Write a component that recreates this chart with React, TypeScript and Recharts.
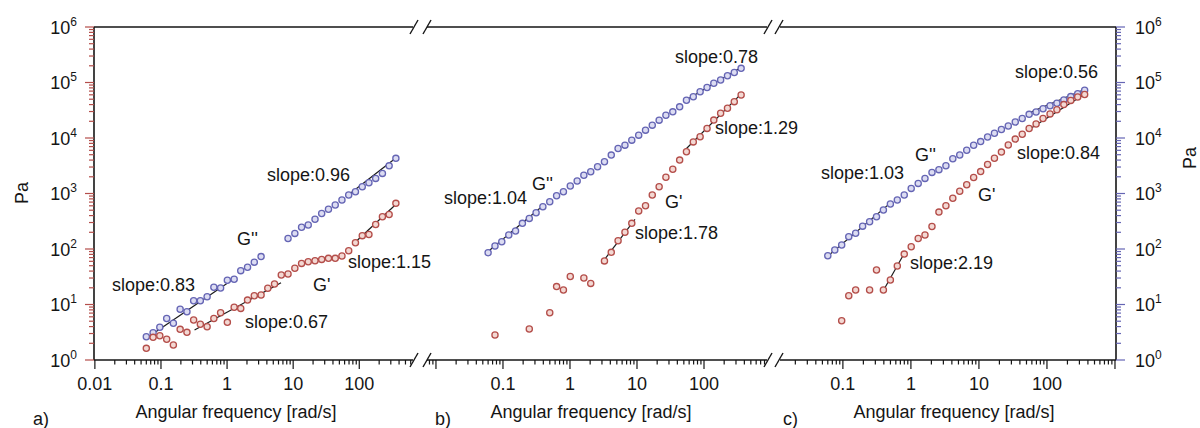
import React from 'react';
import { ComposedChart, Scatter, Line, XAxis, YAxis, ReferenceLine } from 'recharts';

// shared sweep of angular frequencies (rad/s), ~10 points per decade
const FREQ = [
  0.06, 0.076, 0.096, 0.122, 0.154, 0.195, 0.247, 0.312, 0.394, 0.499,
  0.631, 0.798, 1.01, 1.28, 1.61, 2.04, 2.58, 3.27, 4.13, 5.22,
  6.61, 8.36, 10.6, 13.4, 16.9, 21.4, 27.0, 34.2, 43.3, 54.7,
  69.2, 87.5, 111, 140, 177, 224, 283, 358,
];

// panel a
const A_LOSS = [
  2.63, 3.1, 3.9, 5.6, 4.6, 8.2, 7.4, 11.7, 11.7, 13.8,
  20.4, 19.8, 27.3, 28.5, 40.7, 46.9, 58, 73, null, null,
  null, 155, 191, 246, 270, 343, 437, 519, 620, 762,
  937, 1075, 1320, 1560, 1870, 2300, 3150, 4300,
];
const A_STORAGE = [
  1.62, 2.56, 2.74, 2.36, 1.86, 3.57, 3.15, 5.25, 4.4, 3.98,
  5.6, 7.1, 4.77, 8.9, 8.5, 12.0, 14.4, 14.8, 19.6, 23.4,
  34, 35.4, 44.9, 55, 59, 61.6, 65, 67.8, 67.8, 74.6,
  93, 130, 174, 182, 276, 381, 419, 665,
];
const A_FIT_LOSS_LOW = [[0.06, 2.46], [1.37, 30.9]];
const A_FIT_LOSS_HIGH = [[65, 900], [370, 4500]];
const A_FIT_STOR_LOW = [[0.322, 3.47], [6.55, 24.7]];
const A_FIT_STOR_HIGH = [[80.5, 121.6], [363, 646]];

// panel b
const B_LOSS = [
  85.8, 113, 135, 179, 211, 290, 356, 450, 576, 712,
  913, 1075, 1365, 1680, 2135, 2460, 3030, 3730, 4920, 6475,
  7440, 9150, 11250, 13840, 17030, 20950, 25770, 29570, 36400, 48000,
  55300, 68000, 81500, 96700, 111000, 132000, 151000, 180000,
];
const B_STORAGE = [
  null, 2.82, null, null, null, null, 3.62, null, null, 7.1,
  21, 18.3, 32, null, 30, 24, null, 61, 87, 141,
  200, 290, 484, 600, 940, 1325, 1960, 2730, 4000, 5650,
  8500, 10500, 14900, 21000, 27900, 34300, 45200, 59600,
];
const B_FIT_LOSS_LOW = [[0.057, 85.8], [0.378, 576]];
const B_FIT_LOSS_HIGH = [[52, 47000], [365, 190000]];
const B_FIT_STOR_LOW = [[2.97, 55.2], [9.33, 343]];
const B_FIT_STOR_HIGH = [[52, 6070], [365, 63800]];

// panel c
const C_LOSS = [
  75.7, 96, 118, 167, 192, 258, 309, 382, 505, 646,
  762, 937, 1235, 1520, 1870, 2400, 2690, 3170, 4220, 4940,
  6000, 7380, 8610, 10400, 12200, 14200, 16500, 19400, 22400, 26700,
  29400, 33700, 38200, 42200, 48400, 55700, 62800, 72600,
];
const C_STORAGE = [
  null, null, 5.1, 14.4, 18.3, null, 18.3, 41.9, 18.3, 27.6,
  49.4, 81, 110, 155, 179, 255, 462, 603, 822, 1096,
  1440, 1940, 2480, 3330, 4310, 5570, 7480, 9550, 11700, 14800,
  17900, 22500, 27200, 32200, 40000, 47600, 54800, 60800,
];
const C_FIT_LOSS_LOW = [[0.061, 75.7], [0.491, 665]];
const C_FIT_LOSS_HIGH = [[53, 27900], [342, 73200]];
const C_FIT_STOR_LOW = [[0.392, 17.7], [0.789, 81]];
const C_FIT_STOR_HIGH = [[53, 13900], [342, 59600]];

// axes
const DECADES = [0.001, 0.01, 0.1, 1, 10, 100, 1000, 10000, 100000, 1000000];
const MINOR_STEPS = [1, 2, 3, 4, 5, 6, 7, 8, 9];
const Y_DOMAIN = [1, 1000000];
const X_LABELS_A = [0.01, 0.1, 1, 10, 100];
const X_LABELS_BC = [0.1, 1, 10, 100];
const DOMAIN_A = [0.0097, 650];
const DOMAIN_B = [0.00735, 871];
const DOMAIN_C = [0.0119, 1035];

const FONT = "'Liberation Sans', Arial, Helvetica, sans-serif";
const INK = '#151515';
const BLUE = '#6565b4';
const BLUE_FILL = '#dcdcf2';
const RED = '#b44e4a';
const RED_FILL = '#f3d8d3';

const logTicks = (domain: number[]) => {
  const out: number[] = [];
  DECADES.forEach((d) =>
    MINOR_STEPS.forEach((m) => {
      const v = Number((m * d).toPrecision(6));
      if (v >= domain[0] && v <= domain[1]) out.push(v);
    })
  );
  return out;
};

const isMajor = (v: number) => Math.abs(Math.log10(v) - Math.round(Math.log10(v))) < 1e-6;

const pts = (ys: (number | null)[]) =>
  FREQ.map((x, i) => ({ x, y: ys[i] })).filter((p) => p.y != null);
const fit = (pairs: number[][]) => pairs.map(([x, y]) => ({ x, y }));

const YTick = (props: any) => {
  const { x, y, payload, side, color } = props;
  const v = payload.value;
  const major = isMajor(v);
  const dir = side === 'left' ? -1 : 1;
  const exp = Math.round(Math.log10(v));
  return (
    <g>
      <line x1={x} x2={x + dir * (major ? 9 : 5)} y1={y} y2={y} stroke={color} strokeWidth={1.2} />
      {major && (
        <text
          x={x + dir * (side === 'left' ? 17 : 19)}
          y={y + 6.5}
          textAnchor={side === 'left' ? 'end' : 'start'}
          fontSize={18}
          fontFamily={FONT}
          fill={INK}
        >
          10<tspan dy={-8} fontSize={12}>{exp}</tspan>
        </text>
      )}
    </g>
  );
};

const XTick = (props: any) => {
  const { x, y, payload, labels } = props;
  const v = payload.value;
  const major = isMajor(v);
  return (
    <g>
      <line x1={x} x2={x} y1={y} y2={y + (major ? 9 : 4.5)} stroke={INK} strokeWidth={1.2} />
      {labels.includes(v) && (
        <text x={x} y={y + 30} textAnchor="middle" fontSize={18} fontFamily={FONT} fill={INK}>
          {String(v)}
        </text>
      )}
    </g>
  );
};

const dot = (stroke: string, fill: string) => (p: any) =>
  <circle cx={p.cx} cy={p.cy} r={3.1} stroke={stroke} strokeWidth={1.3} fill={fill} />;

const AXIS_LINE = { stroke: INK, strokeWidth: 1.6 };

interface PanelProps {
  left: number;
  width: number;
  margin: { top: number; right: number; bottom: number; left: number };
  domain: number[];
  labels: number[];
  yAxis: 'left' | 'right' | 'none';
  loss: (number | null)[];
  storage: (number | null)[];
  fits: number[][][];
}

const Panel: React.FC<PanelProps> = ({ left, width, margin, domain, labels, yAxis, loss, storage, fits }) => (
  <div style={{ position: 'absolute', left, top: 0 }}>
    <ComposedChart width={width} height={428} margin={margin}>
      <XAxis
        dataKey="x"
        type="number"
        scale="log"
        domain={domain}
        allowDataOverflow
        ticks={logTicks(domain)}
        interval={0}
        tickLine={false}
        tickSize={0}
        tickMargin={0}
        height={30}
        axisLine={AXIS_LINE}
        tick={(p: any) => <XTick {...p} labels={labels} />}
      />
      <YAxis
        dataKey="y"
        type="number"
        scale="log"
        domain={Y_DOMAIN}
        allowDataOverflow
        hide={yAxis === 'none'}
        orientation={yAxis === 'right' ? 'right' : 'left'}
        width={yAxis === 'left' ? 94 : 84}
        ticks={logTicks(Y_DOMAIN)}
        interval={0}
        tickLine={false}
        tickSize={0}
        tickMargin={0}
        axisLine={AXIS_LINE}
        tick={(p: any) => <YTick {...p} side={yAxis} color={yAxis === 'left' ? RED : BLUE} />}
      />
      {/* frame top edge */}
      <ReferenceLine y={Y_DOMAIN[1]} stroke={INK} strokeWidth={1.6} ifOverflow="visible" />
      <Scatter data={pts(loss)} shape={dot(BLUE, BLUE_FILL)} isAnimationActive={false} />
      <Scatter data={pts(storage)} shape={dot(RED, RED_FILL)} isAnimationActive={false} />
      {fits.map((f, i) => (
        <Line
          key={i}
          data={fit(f)}
          dataKey="y"
          type="linear"
          stroke="#1a1a1a"
          strokeWidth={1.2}
          dot={false}
          activeDot={false}
          isAnimationActive={false}
        />
      ))}
    </ComposedChart>
  </div>
);

const Txt = ({ x, y, children }: { x: number; y: number; children: React.ReactNode }) => (
  <text x={x} y={y} fontSize={18} fontFamily={FONT} fill={INK}>
    {children}
  </text>
);

export default function App() {
  return (
    <div style={{ position: 'absolute', left: 0, top: 0, width: 1200, height: 428, background: '#fff' }}>
      <Panel
        left={0}
        width={430}
        margin={{ top: 27, right: 17, bottom: 38, left: 0 }}
        domain={DOMAIN_A}
        labels={X_LABELS_A}
        yAxis="left"
        loss={A_LOSS}
        storage={A_STORAGE}
        fits={[A_FIT_LOSS_LOW, A_FIT_LOSS_HIGH, A_FIT_STOR_LOW, A_FIT_STOR_HIGH]}
      />
      <Panel
        left={427}
        width={340}
        margin={{ top: 27, right: 0, bottom: 38, left: 0 }}
        domain={DOMAIN_B}
        labels={X_LABELS_BC}
        yAxis="none"
        loss={B_LOSS}
        storage={B_STORAGE}
        fits={[B_FIT_LOSS_LOW, B_FIT_LOSS_HIGH, B_FIT_STOR_LOW, B_FIT_STOR_HIGH]}
      />
      <Panel
        left={780}
        width={420}
        margin={{ top: 27, right: 0, bottom: 38, left: 0 }}
        domain={DOMAIN_C}
        labels={X_LABELS_BC}
        yAxis="right"
        loss={C_LOSS}
        storage={C_STORAGE}
        fits={[C_FIT_LOSS_LOW, C_FIT_LOSS_HIGH, C_FIT_STOR_LOW, C_FIT_STOR_HIGH]}
      />
      <svg
        width={1200}
        height={428}
        style={{ position: 'absolute', left: 0, top: 0, pointerEvents: 'none' }}
      >
        {[414, 427, 768, 779].map((bx) =>
          [27, 360].map((by) => (
            <line key={`${bx}-${by}`} x1={bx - 4} y1={by + 7} x2={bx + 4} y2={by - 7} stroke={INK} strokeWidth={1.4} />
          ))
        )}
        <text x={22} y={193} fontSize={18} fontFamily={FONT} fill={INK} textAnchor="middle" transform="rotate(-90 22 193)" dominantBaseline="central">Pa</text>
        <text x={1190} y={158} fontSize={18} fontFamily={FONT} fill={INK} textAnchor="middle" transform="rotate(-90 1190 158)" dominantBaseline="central">Pa</text>

        <text x={236} y={418} fontSize={18} fontFamily={FONT} fill={INK} textAnchor="middle">Angular frequency [rad/s]</text>
        <text x={591} y={418} fontSize={18} fontFamily={FONT} fill={INK} textAnchor="middle">Angular frequency [rad/s]</text>
        <text x={954} y={418} fontSize={18} fontFamily={FONT} fill={INK} textAnchor="middle">Angular frequency [rad/s]</text>
        <Txt x={33} y={425}>a)</Txt>
        <Txt x={435} y={425}>b)</Txt>
        <Txt x={783} y={425}>c)</Txt>

        <Txt x={267} y={181}>slope:0.96</Txt>
        <Txt x={237} y={245}>G''</Txt>
        <Txt x={112} y={291}>slope:0.83</Txt>
        <Txt x={348} y={268}>slope:1.15</Txt>
        <Txt x={313} y={291}>G'</Txt>
        <Txt x={245} y={328}>slope:0.67</Txt>

        <Txt x={444} y={204}>slope:1.04</Txt>
        <Txt x={532} y={190}>G''</Txt>
        <Txt x={675} y={63}>slope:0.78</Txt>
        <Txt x={715} y={134}>slope:1.29</Txt>
        <Txt x={665} y={208}>G'</Txt>
        <Txt x={635} y={239}>slope:1.78</Txt>

        <Txt x={821} y={179}>slope:1.03</Txt>
        <Txt x={915} y={161}>G''</Txt>
        <Txt x={1015} y={78}>slope:0.56</Txt>
        <Txt x={1017} y={159}>slope:0.84</Txt>
        <Txt x={978} y={201}>G'</Txt>
        <Txt x={910} y={269}>slope:2.19</Txt>
      </svg>
    </div>
  );
}
